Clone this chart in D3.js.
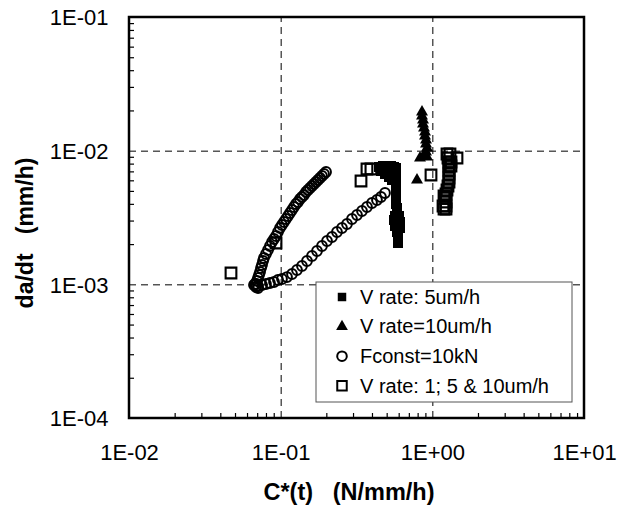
<!DOCTYPE html>
<html>
<head>
<meta charset="utf-8">
<script src="https://cdn.jsdelivr.net/npm/d3@7"></script>
<style>
  html, body { margin: 0; padding: 0; background: #fff; }
  svg { display: block; }
  text { font-family: "Liberation Sans", Arial, sans-serif; fill: #000; }
</style>
</head>
<body>
<svg id="chart" width="633" height="509"></svg>
<script>
// Axis ticks
const xTicks = [0.01, 0.1, 1, 10];
const xTickLabels = ["1E-02", "1E-01", "1E+00", "1E+01"];
const yTicks = [1e-4, 1e-3, 1e-2, 1e-1];
const yTickLabels = ["1E-04", "1E-03", "1E-02", "1E-01"];

// Series names (legend order)
const seriesNames = ["V rate: 5um/h", "V rate=10um/h", "Fconst=10kN", "V rate: 1; 5 & 10um/h"];

// V rate: 5um/h  (filled squares)
const vr5X = [0.4449, 0.4728, 0.5023, 0.5338, 0.5588, 0.4585, 0.4873, 0.5180, 0.542,
  0.5760, 0.5760, 0.5760, 0.5760, 0.5760, 0.5760, 0.5760, 0.5760, 0.5760, 0.5760,
  0.5848, 0.5848, 0.5673, 0.6029, 0.5588, 0.6120, 0.5673, 0.6120, 0.5848, 0.5937, 0.5937, 0.5937];
const vr5Y = [0.007548, 0.007679, 0.007679, 0.007679, 0.007548, 0.007046, 0.006690, 0.006353, 0.006033,
  0.007419, 0.006925, 0.006464, 0.006033, 0.005630, 0.005255, 0.004907, 0.004580, 0.004276, 0.003990,
  0.003724, 0.003477, 0.003245, 0.003245, 0.003029, 0.002927, 0.002732, 0.002639, 0.002464, 0.002299, 0.002146, 0.002038];

// V rate=10um/h  (filled triangles)
const vr10X = [0.8548, 0.8548, 0.8679, 0.8679, 0.8810, 0.8946, 0.8946, 0.9083, 0.9083, 0.9222,
  0.9083, 0.8810, 0.8292, 0.9222, 0.7922];
const vr10Y = [0.01947, 0.01817, 0.01696, 0.01583, 0.01477, 0.01379, 0.01287, 0.01202, 0.01122, 0.01047,
  0.00977, 0.009281, 0.00881, 0.008967, 0.006033];

// Fconst=10kN  (open circles): loading branch, return branch, start cluster
const fcX = [0.0688, 0.0698, 0.0709, 0.0720, 0.0731, 0.0742, 0.0753, 0.0765, 0.0776, 0.0800,
  0.0825, 0.0850, 0.0877, 0.0904, 0.0932, 0.0960, 0.0990, 0.1020, 0.1052, 0.1084,
  0.1118, 0.1152, 0.1188, 0.1224, 0.1262, 0.1301, 0.1341, 0.1382, 0.1425, 0.1469,
  0.1514, 0.1561, 0.1609, 0.1659, 0.1710, 0.1763, 0.1817, 0.1873, 0.1931, 0.1991,
  0.0709, 0.0753, 0.0800, 0.0850, 0.0904, 0.0960, 0.1020, 0.1101, 0.1188, 0.1281,
  0.1382, 0.1491, 0.1609, 0.1736, 0.1873, 0.2021, 0.2180, 0.2351, 0.2537, 0.2737,
  0.2953, 0.3186, 0.3437, 0.3707, 0.4002, 0.4315, 0.4585, 0.4873,
  0.0677, 0.0688, 0.0709, 0.0667];
const fcY = [0.001006, 0.001059, 0.001115, 0.001175, 0.001237, 0.001325, 0.001395, 0.001495, 0.001574, 0.001687,
  0.001807, 0.001936, 0.002074, 0.002184, 0.002299, 0.002464, 0.002639, 0.002780, 0.002927, 0.003082,
  0.003245, 0.003417, 0.003597, 0.003789, 0.003990, 0.004130, 0.004350, 0.004503, 0.004660, 0.004907,
  0.005078, 0.005255, 0.005441, 0.005630, 0.005831, 0.006033, 0.006245, 0.006464, 0.006690, 0.006925,
  0.000972, 0.000989, 0.001006, 0.001023, 0.001041, 0.001078, 0.001096, 0.001134, 0.001195, 0.001280,
  0.001372, 0.001495, 0.001630, 0.001776, 0.001936, 0.002110, 0.002261, 0.002464, 0.002639, 0.002828,
  0.003082, 0.003301, 0.003537, 0.003789, 0.004060, 0.004276, 0.004503, 0.004824,
  0.001006, 0.000955, 0.000939, 0.000989];

// V rate: 1; 5 & 10um/h  (open squares)
const vrAllX = [0.04704, 0.0932, 0.3386, 0.3707, 0.3936, 0.9799, 1.454,
  1.249, 1.307, 1.268, 1.288, 1.288, 1.288, 1.288, 1.288, 1.288, 1.268, 1.249, 1.231, 1.212, 1.231, 1.231, 1.231, 1.194,
  1.327, 1.327, 1.176, 1.194];
const vrAllY = [0.001216, 0.002038, 0.005931, 0.007293, 0.007293, 0.006577, 0.00881,
  0.009443, 0.009443, 0.00881, 0.008228, 0.007679, 0.007168, 0.006690, 0.006245, 0.005831, 0.005441, 0.005078, 0.004739, 0.004424, 0.004130, 0.003855, 0.003661, 0.004580,
  0.008228, 0.007679, 0.003855, 0.003661];

const FONT = "'Liberation Sans', Arial, sans-serif";
const svg = d3.select("#chart");
const L = 129, R = 584, T = 17, B = 418;

const x = d3.scaleLog().domain([0.01, 10]).range([L, R]);
const y = d3.scaleLog().domain([1e-4, 0.1]).range([B, T]);

// Dashed major gridlines
const gx = svg.append("g").attr("transform", `translate(0,${B})`)
  .call(d3.axisBottom(x).tickValues([0.1, 1]).tickSize(-(B - T)).tickFormat(""));
gx.select(".domain").remove();
gx.selectAll("line").attr("stroke", "#000").attr("stroke-width", 1).attr("stroke-dasharray", "7,5");

const gy = svg.append("g").attr("transform", `translate(${L},0)`)
  .call(d3.axisLeft(y).tickValues([1e-3, 1e-2]).tickSize(-(R - L)).tickFormat(""));
gy.select(".domain").remove();
gy.selectAll("line").attr("stroke", "#000").attr("stroke-width", 1).attr("stroke-dasharray", "7,5");

// Minor ticks pointing into the plot
const isMajor = v => Math.abs(Math.log10(v) - Math.round(Math.log10(v))) < 1e-9;
const mx = svg.append("g").attr("transform", `translate(0,${B})`)
  .call(d3.axisBottom(x).tickValues(x.ticks().filter(v => !isMajor(v))).tickSize(-5).tickFormat(""));
mx.select(".domain").remove();
mx.selectAll("line").attr("stroke", "#000").attr("stroke-width", 1.2);

const my = svg.append("g").attr("transform", `translate(${L},0)`)
  .call(d3.axisLeft(y).tickValues(y.ticks().filter(v => !isMajor(v))).tickSize(-5).tickFormat(""));
my.select(".domain").remove();
my.selectAll("line").attr("stroke", "#000").attr("stroke-width", 1.2);

// Tick labels
const lx = svg.append("g").attr("transform", `translate(0,${B})`)
  .call(d3.axisBottom(x).tickValues(xTicks).tickSize(0).tickPadding(26)
    .tickFormat((d, i) => xTickLabels[i]));
lx.select(".domain").remove();
lx.attr("font-size", 22).attr("font-family", FONT);

const ly = svg.append("g").attr("transform", `translate(${L},0)`)
  .call(d3.axisLeft(y).tickValues(yTicks).tickSize(0).tickPadding(20.5)
    .tickFormat((d, i) => yTickLabels[i]));
ly.select(".domain").remove();
ly.attr("font-size", 22).attr("font-family", FONT);
ly.selectAll("text").attr("dy", "0.36em");

// Data marks
const zip = (a, b) => a.map((v, i) => [v, b[i]]);
const plot = svg.append("g");

const triPath = d3.symbol().type(d3.symbolTriangle).size(62)();
const sqFill = d3.symbol().type(d3.symbolSquare).size(100)();
const sqOpen = d3.symbol().type(d3.symbolSquare).size(115)();

plot.append("g").selectAll("path").data(zip(vr5X, vr5Y)).join("path")
  .attr("d", sqFill).attr("transform", d => `translate(${x(d[0])},${y(d[1])})`)
  .attr("fill", "#000");

plot.append("g").selectAll("path").data(zip(vr10X, vr10Y)).join("path")
  .attr("d", triPath).attr("transform", d => `translate(${x(d[0])},${y(d[1])})`)
  .attr("fill", "#000");

plot.append("g").selectAll("circle").data(zip(fcX, fcY)).join("circle")
  .attr("cx", d => x(d[0])).attr("cy", d => y(d[1])).attr("r", 4.9)
  .attr("fill", "none").attr("stroke", "#000").attr("stroke-width", 2);

plot.append("g").selectAll("path").data(zip(vrAllX, vrAllY)).join("path")
  .attr("d", sqOpen).attr("transform", d => `translate(${x(d[0])},${y(d[1])})`)
  .attr("fill", "none").attr("stroke", "#000").attr("stroke-width", 2.1);

// Plot frame
svg.append("rect").attr("x", L).attr("y", T).attr("width", R - L).attr("height", B - T)
  .attr("fill", "none").attr("stroke", "#000").attr("stroke-width", 2.5);

// Legend
const leg = svg.append("g").attr("transform", "translate(316,282)");
leg.append("rect").attr("x", 0).attr("y", 0).attr("width", 256).attr("height", 120)
  .attr("fill", "#fff").attr("stroke", "#555").attr("stroke-width", 1);
const rowY = i => 15 + i * 29.6;
const legMarks = [
  g => g.append("path").attr("d", d3.symbol().type(d3.symbolSquare).size(72)()).attr("fill", "#000"),
  g => g.append("path").attr("d", d3.symbol().type(d3.symbolTriangle).size(60)()).attr("fill", "#000"),
  g => g.append("circle").attr("r", 4.8).attr("fill", "none").attr("stroke", "#000").attr("stroke-width", 2),
  g => g.append("path").attr("d", d3.symbol().type(d3.symbolSquare).size(90)()).attr("fill", "none").attr("stroke", "#000").attr("stroke-width", 2)
];
seriesNames.forEach((name, i) => {
  const row = leg.append("g").attr("transform", `translate(0,${rowY(i)})`);
  legMarks[i](row.append("g").attr("transform", "translate(26,0)"));
  row.append("text").attr("x", 44).attr("y", 6.8).attr("font-size", 20).text(name);
});

// Axis titles
svg.append("text").attr("x", 349).attr("y", 500).attr("text-anchor", "middle")
  .attr("font-size", 23.5).attr("font-weight", "bold").style("white-space", "pre")
  .text("C*(t)   (N/mm/h)");
svg.append("text").attr("transform", "translate(33,233) rotate(-90)").attr("text-anchor", "middle")
  .attr("font-size", 23).attr("font-weight", "bold").style("white-space", "pre")
  .text("da/dt   (mm/h)");
</script>
</body>
</html>
